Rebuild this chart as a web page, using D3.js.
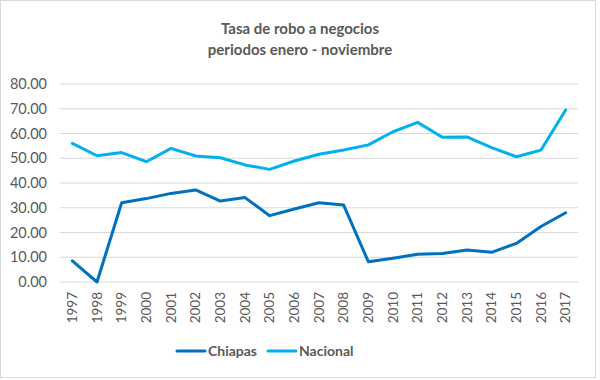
<!DOCTYPE html>
<html>
<head>
<meta charset="utf-8">
<script src="https://cdn.jsdelivr.net/npm/d3@7"></script>
<style>
  body { margin: 0; background: #fff; }
  svg text { font-family: Lato, "Open Sans", sans-serif; fill: #595959; }
</style>
</head>
<body>
<svg id="chart"></svg>
<script>
// Data
const years = ["1997","1998","1999","2000","2001","2002","2003","2004","2005","2006","2007",
               "2008","2009","2010","2011","2012","2013","2014","2015","2016","2017"];
const chiapas = [8.5, 0.0, 32.0, 33.7, 35.8, 37.2, 32.7, 34.1, 26.8, 29.5, 32.0,
                 31.1, 8.2, 9.6, 11.2, 11.5, 12.9, 12.0, 15.6, 22.4, 28.0];
const nacional = [56.0, 51.0, 52.3, 48.6, 54.0, 50.9, 50.2, 47.3, 45.5, 48.9, 51.6,
                  53.3, 55.4, 60.7, 64.5, 58.5, 58.6, 54.3, 50.6, 53.3, 69.5];
const yTicks = [0, 10, 20, 30, 40, 50, 60, 70, 80];
const titleLines = ["Tasa de robo a negocios", "periodos enero - noviembre"];

const seriesList = [
    { name: "Chiapas", values: chiapas, color: "#0070C0" },
    { name: "Nacional", values: nacional, color: "#00B0F0" }
];

const W = 600, H = 380;
const margin = {top: 84, right: 22, bottom: 98, left: 60};
const width = W - margin.left - margin.right;
const height = H - margin.top - margin.bottom;

const root = d3.select("#chart").attr("width", W).attr("height", H);

// Chart border
root.append("rect")
    .attr("x", 0.5).attr("y", 0.5)
    .attr("width", W - 5).attr("height", H - 3)
    .attr("fill", "#fff")
    .attr("stroke", "#d9d9d9");

// Title
root.append("text")
    .attr("x", 300).attr("y", 34)
    .attr("text-anchor", "middle")
    .style("font-size", "15px")
    .style("font-weight", "bold")
    .selectAll("tspan")
    .data(titleLines)
    .enter().append("tspan")
    .attr("x", 300)
    .attr("dy", (d, i) => i === 0 ? 0 : 21)
    .text(d => d);

const svg = root.append("g")
    .attr("transform", `translate(${margin.left},${margin.top})`);

const x = d3.scaleBand().domain(years).range([0, width]);
const y = d3.scaleLinear().domain([0, 80]).range([height, 0]);

// Gridlines
svg.selectAll(".grid")
    .data(yTicks)
    .enter().append("line")
    .attr("x1", 0).attr("x2", width)
    .attr("y1", d => y(d)).attr("y2", d => y(d))
    .attr("stroke", "#d9d9d9")
    .attr("stroke-width", 1);

// Y axis labels
const yAxis = svg.append("g")
    .call(d3.axisLeft(y).tickValues(yTicks).tickFormat(d3.format(".2f")).tickSize(0).tickPadding(13));
yAxis.select(".domain").remove();
yAxis.selectAll("text").style("font-size", "14.5px").attr("fill", "#595959");

// X axis labels
const xAxis = svg.append("g")
    .attr("transform", `translate(0,${height})`)
    .call(d3.axisBottom(x).tickSize(0));
xAxis.select(".domain").remove();
xAxis.selectAll("text")
    .style("font-size", "13.5px")
    .attr("fill", "#595959")
    .attr("transform", "rotate(-90)")
    .attr("text-anchor", "end")
    .attr("x", -10)
    .attr("y", 0)
    .attr("dy", "0.35em");

// Lines
const line = d3.line()
    .x((d, i) => x(years[i]) + x.bandwidth() / 2)
    .y(d => y(d));

seriesList.forEach(s => {
    svg.append("path")
        .datum(s.values)
        .attr("fill", "none")
        .attr("stroke", s.color)
        .attr("stroke-width", 3)
        .attr("stroke-linejoin", "round")
        .attr("stroke-linecap", "round")
        .attr("d", line);
});

// Legend
const legend = root.append("g").attr("transform", "translate(177,351)");
const legendX = [0, 91];
seriesList.forEach((s, i) => {
    const item = legend.append("g").attr("transform", `translate(${legendX[i]},0)`);
    item.append("line")
        .attr("x1", 0).attr("x2", 28)
        .attr("stroke", s.color)
        .attr("stroke-width", 3)
        .attr("stroke-linecap", "round");
    item.append("text")
        .attr("x", 31).attr("y", 5)
        .style("font-size", "14px")
        .style("font-weight", "bold")
        .text(s.name);
});
</script>
</body>
</html>
